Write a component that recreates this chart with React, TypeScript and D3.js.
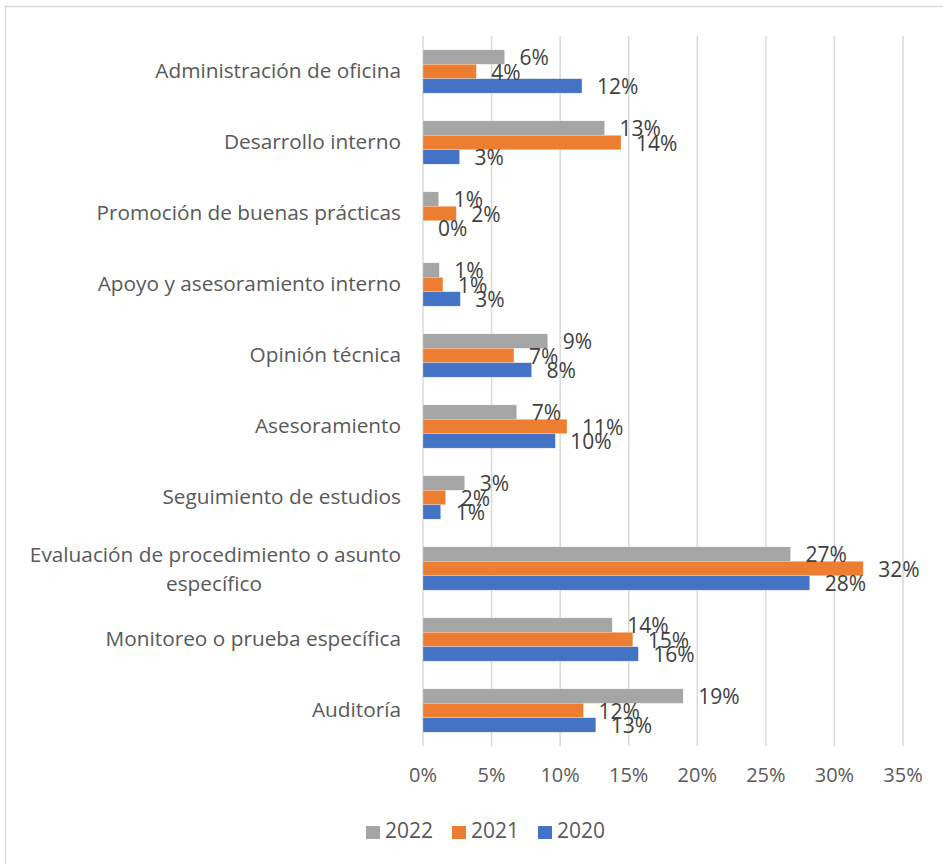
import React from "react";
import * as d3 from "d3";

const categories: string[][] = [
  ["Administración de oficina"],
  ["Desarrollo interno"],
  ["Promoción de buenas prácticas"],
  ["Apoyo y asesoramiento interno"],
  ["Opinión técnica"],
  ["Asesoramiento"],
  ["Seguimiento de estudios"],
  ["Evaluación de procedimiento o asunto", "específico"],
  ["Monitoreo o prueba específica"],
  ["Auditoría"],
];

const seriesNames = ["2022", "2021", "2020"];
const values2022 = [0.0595, 0.1324, 0.0114, 0.0119, 0.0909, 0.0683, 0.0304, 0.268, 0.138, 0.1897];
const values2021 = [0.0389, 0.1444, 0.0243, 0.0145, 0.0663, 0.105, 0.0165, 0.321, 0.153, 0.117];
const values2020 = [0.1159, 0.0267, 0.0, 0.0272, 0.0792, 0.0965, 0.0129, 0.282, 0.157, 0.126];
const colors = ["#A5A5A5", "#ED7D31", "#4472C4"];
const ticks = [0, 0.05, 0.1, 0.15, 0.2, 0.25, 0.3, 0.35];

const FONT = "'Open Sans', Lato, sans-serif";

export default function App() {
  const series = [values2022, values2021, values2020];
  const keys = categories.map((c) => c.join(" "));
  const y = d3.scaleBand<string>().domain(keys).range([36, 746]).paddingInner(0.39).paddingOuter(0.195);
  const yInner = d3.scaleBand<string>().domain(seriesNames).range([0, y.bandwidth()]);
  const x = d3.scaleLinear().domain([0, 0.35]).range([423, 903]);
  const fmt = d3.format(".0%");

  const legendItems = [
    { name: "2022", color: colors[0], sx: 366, tx: 385 },
    { name: "2021", color: colors[1], sx: 452, tx: 471 },
    { name: "2020", color: colors[2], sx: 538, tx: 557 },
  ];

  return (
    <svg
      width={943}
      height={864}
      style={{ position: "absolute", left: 0, top: 0, background: "#fff" }}
      fontFamily={FONT}
    >
      <rect x={5.5} y={6.5} width={960} height={900} fill="#fff" stroke="#D9D9D9" strokeWidth={1.5} />
      {ticks.map((t) => (
        <line key={t} x1={x(t)} x2={x(t)} y1={36} y2={746} stroke="#D9D9D9" strokeWidth={1.5} />
      ))}
      {series.map((vals, si) =>
        keys.map((k, ci) => (
          <rect
            key={si + "-" + ci}
            x={x(0)}
            y={(y(k) as number) + (yInner(seriesNames[si]) as number)}
            width={x(vals[ci]) - x(0)}
            height={yInner.bandwidth()}
            fill={colors[si]}
            stroke="#fff"
            strokeOpacity={0.5}
            strokeWidth={0.5}
          />
        ))
      )}
      {series.map((vals, si) =>
        keys.map((k, ci) => (
          <text
            key={"l" + si + "-" + ci}
            x={x(vals[ci]) + 15}
            y={(y(k) as number) + (yInner(seriesNames[si]) as number) + yInner.bandwidth() / 2 + 2.5}
            dominantBaseline="middle"
            fontSize={21}
            fill="#404040"
          >
            {fmt(vals[ci])}
          </text>
        ))
      )}
      {categories.map((lines, ci) => {
        const cy = (y(keys[ci]) as number) + y.bandwidth() / 2 + 1;
        const lh = 29;
        if (lines.length === 1) {
          return (
            <text key={"c" + ci} x={401} y={cy} textAnchor="end" dominantBaseline="middle" fontSize={20.8} fill="#595959">
              {lines[0]}
            </text>
          );
        }
        return (
          <text key={"c" + ci} x={401} y={cy} fontSize={20.8} fill="#595959" textAnchor="end" dominantBaseline="middle">
            <tspan x={401} dy={-lh / 2 + 1}>{lines[0]}</tspan>
            <tspan x={214} dy={lh} textAnchor="middle">{lines[1]}</tspan>
          </text>
        );
      })}
      {ticks.map((t) => (
        <text key={"t" + t} x={x(t)} y={777} textAnchor="middle" dominantBaseline="middle" fontSize={20} fill="#595959">
          {fmt(t)}
        </text>
      ))}
      {legendItems.map((it) => (
        <g key={it.name}>
          <rect x={it.sx} y={826} width={14} height={13} fill={it.color} />
          <text x={it.tx} y={832.5} dominantBaseline="middle" fontSize={21} fill="#595959">
            {it.name}
          </text>
        </g>
      ))}
    </svg>
  );
}
